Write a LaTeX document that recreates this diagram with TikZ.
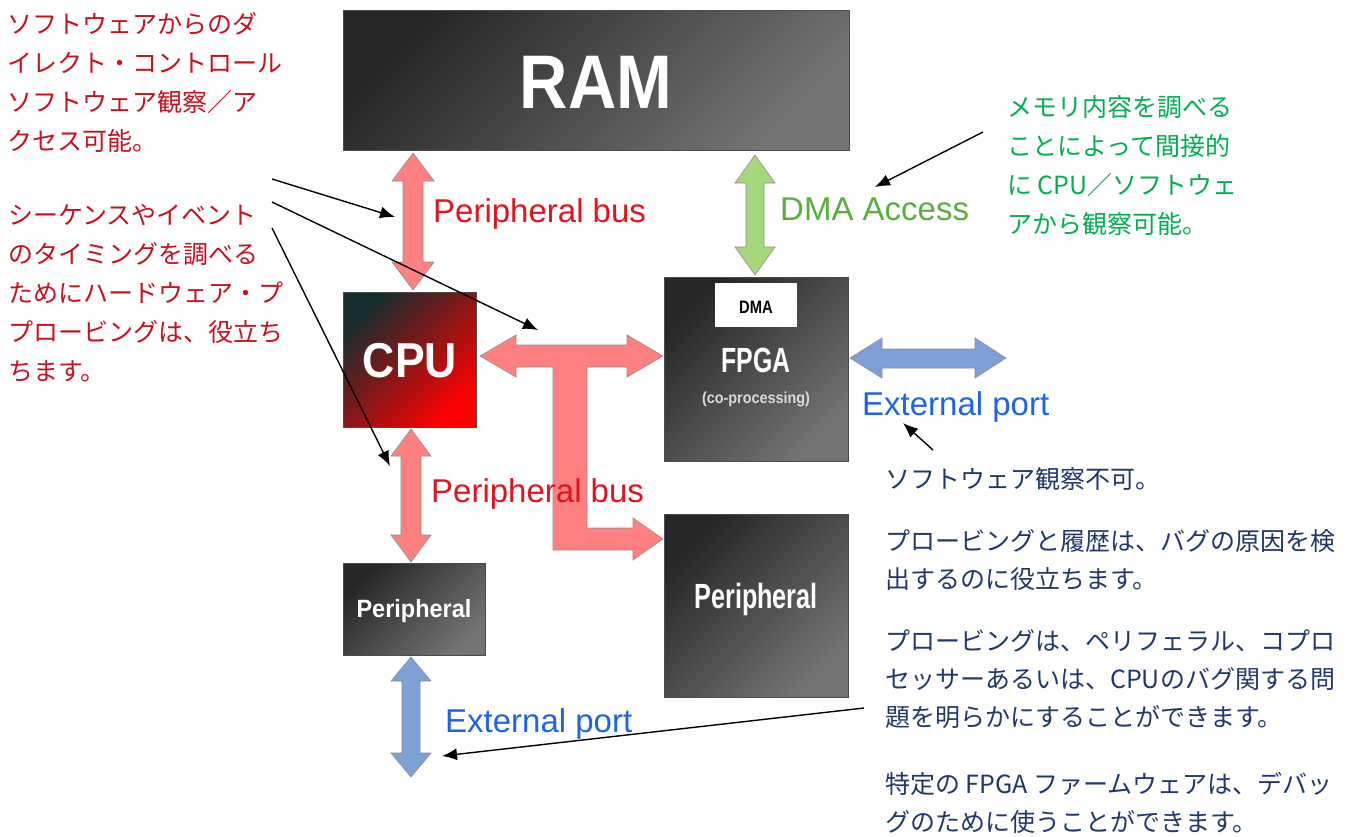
\documentclass[tikz,border=0pt]{standalone}
\usepackage{fontspec}
\usepackage{graphicx}
\newfontfamily\jpfont{Noto Sans CJK JP}
\newfontfamily\arialfont{Liberation Sans}
\usetikzlibrary{arrows.meta}

\definecolor{busred}{RGB}{255,128,128}
\definecolor{dmagreen}{RGB}{165,215,125}
\definecolor{portblue}{RGB}{125,160,215}
\definecolor{lblred}{RGB}{225,20,30}
\definecolor{lblgreen}{RGB}{90,175,60}
\definecolor{lblblue}{RGB}{30,100,230}
\definecolor{notered}{RGB}{200,16,30}
\definecolor{notegreen}{RGB}{0,176,80}
\definecolor{notenavy}{RGB}{32,56,110}
\definecolor{cpudark}{RGB}{20,45,45}

\begin{document}
\begin{tikzpicture}[x=1pt, y=-1pt,
    box/.style={draw=black!70, line width=0.8pt, inner sep=0pt,
        top color=black!85, bottom color=black!55, shading angle=45},
    boxtext/.style={text=white, anchor=base, inner sep=0pt,
        font=\arialfont\bfseries},
    arrowbody/.style={draw=black!45, line width=0.6pt},
    buslbl/.style={anchor=base west, inner sep=0pt,
        font=\arialfont\fontsize{33}{33}\selectfont},
    note/.style={anchor=north west, inner sep=0pt, align=left,
        font=\jpfont\fontsize{25}{39}\selectfont},
    pointer/.style={-{Latex[length=15pt,width=12pt]}, line width=1.4pt}]
    \useasboundingbox (0,0) rectangle (1356,836);

    % boxes
    \node[box, minimum width=506, minimum height=140] (ram) at (596,80) {};
    \node[box, minimum width=133, minimum height=135, top color=cpudark,
        bottom color=red, shading angle=45] (cpu) at (409.5,359.5) {};
    \node[box, minimum width=184, minimum height=184] (fpga) at (756,369) {};
    \node[fill=white, minimum width=82, minimum height=44, inner sep=0pt] (dma) at (756,305) {};
    \node[box, minimum width=184, minimum height=183] (perB) at (756,605.5) {};
    \node[box, minimum width=142, minimum height=92] (perA) at (414,609) {};

    % bus arrows
    \draw[arrowbody, fill=busred] (413,153) -- (434,181) -- (423,181) -- (423,262)
        -- (434,262) -- (413,290) -- (392,262) -- (403,262) -- (403,181) -- (392,181) -- cycle;
    \draw[arrowbody, fill=busred] (411,429) -- (431,456) -- (421,456) -- (421,535)
        -- (431,535) -- (411,562) -- (391,535) -- (401,535) -- (401,456) -- (391,456) -- cycle;
    \draw[arrowbody, fill=busred] (480,356) -- (516,335) -- (516,345) -- (627,345)
        -- (627,335) -- (663,356) -- (627,377) -- (627,367) -- (587,367) -- (587,528)
        -- (633,528) -- (633,518) -- (663,539) -- (633,560) -- (633,550) -- (553,550)
        -- (553,367) -- (516,367) -- (516,377) -- cycle;
    \draw[arrowbody, fill=dmagreen] (755,155) -- (775,183) -- (764,183) -- (764,247)
        -- (775,247) -- (755,275) -- (735,247) -- (746,247) -- (746,183) -- (735,183) -- cycle;
    \draw[arrowbody, fill=portblue] (850,358) -- (882,338) -- (882,349) -- (975,349)
        -- (975,338) -- (1006,358) -- (975,378) -- (975,368) -- (882,368) -- (882,378) -- cycle;
    \draw[arrowbody, fill=portblue] (411,657) -- (431,681) -- (420,681) -- (420,753)
        -- (431,753) -- (411,777) -- (391,753) -- (402,753) -- (402,681) -- (391,681) -- cycle;

    % box texts
    \node[boxtext, font=\arialfont\bfseries\fontsize{76}{76}\selectfont] (ramlbl) at (596,108) {\scalebox{0.88}[1]{RAM}};
    \node[boxtext, font=\arialfont\bfseries\fontsize{49}{49}\selectfont] (cpulbl) at (410,377) {\scalebox{0.91}[1]{CPU}};
    \node[boxtext, text=black, font=\arialfont\bfseries\fontsize{18}{18}\selectfont] (dmalbl) at (756,313) {\scalebox{0.82}[1]{DMA}};
    \node[boxtext, font=\arialfont\bfseries\fontsize{35}{35}\selectfont] (fpgalbl) at (756,372) {\scalebox{0.71}[1]{FPGA}};
    \node[boxtext, text=white!85!black, anchor=center, font=\arialfont\bfseries\fontsize{16}{16}\selectfont] (copro) at (756,399) {\scalebox{0.9}[1]{(co-processing)}};
    \node[boxtext, font=\arialfont\bfseries\fontsize{35}{35}\selectfont] (perBlbl) at (756,608) {\scalebox{0.72}[1]{Peripheral}};
    \node[boxtext, font=\arialfont\bfseries\fontsize{25}{25}\selectfont] (perAlbl) at (414,617) {\scalebox{0.94}[1]{Peripheral}};

    % bus labels
    \node[buslbl, text=lblred] (pbusA) at (433,222) {Peripheral bus};
    \node[buslbl, text=lblred] (pbusB) at (431,502) {Peripheral bus};
    \node[buslbl, text=lblgreen] (dmaacc) at (780,220) {DMA Access};
    \node[buslbl, text=lblblue] (extA) at (862,415) {External port};
    \node[buslbl, text=lblblue] (extB) at (445,732) {External port};

    % notes
    \node[note, text=notered] (noteA) at (7,12) {ソフトウェアからのダ\\イレクト・コントロール\\ソフトウェア観察／ア\\クセス可能。};
    \node[note, text=notered] (noteB) at (8,204) {シーケンスやイベント\\のタイミングを調べる\\ためにハードウェア・プ\\プロービングは、役立ち\\ちます。};
    \node[note, text=notegreen] (noteC) at (1007,95) {メモリ内容を調べる\\ことによって間接的\\に CPU／ソフトウェ\\アから観察可能。};
    \node[note, text=notenavy, font=\jpfont\fontsize{25}{38}\selectfont] (noteD) at (885,467)
        {ソフトウェア観察不可。\\[24pt]
         プロービングと履歴は、バグの原因を検\\出するのに役立ちます。\\[24pt]
         プロービングは、ペリフェラル、コプロ\\セッサーあるいは、CPUのバグ関する問\\題を明らかにすることができます。\\[29pt]
         特定の FPGA ファームウェアは、デバッ\\グのために使うことができます。};

    % pointers
    \coordinate (p1s) at (272,179);
    \coordinate (p1e) at (395,217);
    \coordinate (p2s) at (272,202);
    \coordinate (p2e) at (538,330);
    \coordinate (p3s) at (272,228);
    \coordinate (p3e) at (390,466);
    \coordinate (p4s) at (983,132);
    \coordinate (p4e) at (875,187);
    \coordinate (p5s) at (933,450);
    \coordinate (p5e) at (903,423);
    \coordinate (p6s) at (864,708);
    \coordinate (p6e) at (442,756);
    \draw[pointer] (p1s) to (p1e);
    \draw[pointer] (p2s) to (p2e);
    \draw[pointer] (p3s) to (p3e);
    \draw[pointer] (p4s) to (p4e);
    \draw[pointer] (p5s) to (p5e);
    \draw[pointer] (p6s) to (p6e);
\end{tikzpicture}
\end{document}
